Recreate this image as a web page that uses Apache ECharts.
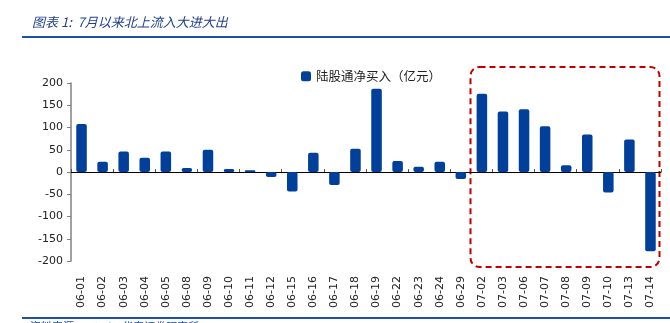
<!DOCTYPE html>
<html><head><meta charset="utf-8">
<script src="https://cdn.jsdelivr.net/npm/echarts@6/dist/echarts.min.js"></script>
<style>html,body{margin:0;padding:0;background:#fff;}#c{width:670px;height:323px;}</style>
</head><body><div id="c"></div>
<script>
const categories = ['06-01','06-02','06-03','06-04','06-05','06-08','06-09','06-10','06-11','06-12','06-15','06-16','06-17','06-18','06-19','06-22','06-23','06-24','06-29','07-02','07-03','07-06','07-07','07-08','07-09','07-10','07-13','07-14'];
const netBuy = [108,23,46,32,46,9,50,7,4,-11,-44,43,-29,52,187,25,12,23,-16,176,136,141,103,15,84,-46,73,-178];
const seriesName = '陆股通净买入（亿元）';
const titleText = '图表 1:  7月以来北上流入大进大出';
const yTicks = {min:-200, max:200, interval:50};

const chart = echarts.init(document.getElementById('c'), null, {renderer:'canvas'});
chart.setOption({
  animation:false,
  backgroundColor:'#fff',
  grid:{left:71, right:9, top:83, bottom:62, containLabel:false},
  legend:{
    data:[seriesName], left:296, top:65, itemWidth:10, itemHeight:10, itemGap:2,
    textStyle:{fontFamily:'Noto Sans CJK SC', fontSize:12.5, color:'#222'},
    icon:'roundRect'
  },
  xAxis:[{
    type:'category', data:categories, position:'bottom',
    axisLine:{show:false, onZero:false}, axisTick:{show:false},
    axisLabel:{rotate:90, margin:10, fontFamily:'DejaVu Sans', fontSize:11, color:'#222', interval:0, padding:[0,0,0,0]}
  },{
    type:'category', data:categories, position:'bottom',
    axisLine:{show:true, onZero:true, lineStyle:{color:'#000', width:1}},
    axisTick:{show:true, inside:true, length:3, lineStyle:{color:'#555'}},
    axisLabel:{show:false}
  }],
  yAxis:{
    type:'value', min:yTicks.min, max:yTicks.max, interval:yTicks.interval,
    splitLine:{show:false},
    axisLine:{show:true, lineStyle:{color:'#808080', width:1.5}},
    axisTick:{show:true, length:4, lineStyle:{color:'#808080'}},
    axisLabel:{fontFamily:'DejaVu Sans', fontSize:11, color:'#222', margin:8}
  },
  series:[{
    name:seriesName, type:'bar', data:netBuy, xAxisIndex:0,
    barWidth:'50%',
    itemStyle:{color:'#00409a', borderRadius:2}
  }],
  graphic:[
    {type:'text', left:32, top:16, style:{text:titleText, fill:'#1f3f8f', font:'italic 13px "Noto Sans CJK SC"'}},
    {type:'line', shape:{x1:22,y1:37,x2:670,y2:37}, style:{stroke:'#2050a0', lineWidth:2}},
    {type:'line', shape:{x1:22,y1:318,x2:670,y2:318}, style:{stroke:'#2050a0', lineWidth:2}},
    {type:'rect', shape:{x:470.5,y:67,width:189,height:200,r:9}, style:{fill:'none', stroke:'#c00000', lineWidth:2, lineDash:[6,4]}},
    {type:'text', left:30, top:321, style:{text:'资料来源：Wind，华泰证券研究所', fill:'#2050a0', font:'11px "Noto Sans CJK SC"'}}
  ]
});
chart.setOption({xAxis:[{axisLabel:{margin:15}},{}]});
</script></body></html>
